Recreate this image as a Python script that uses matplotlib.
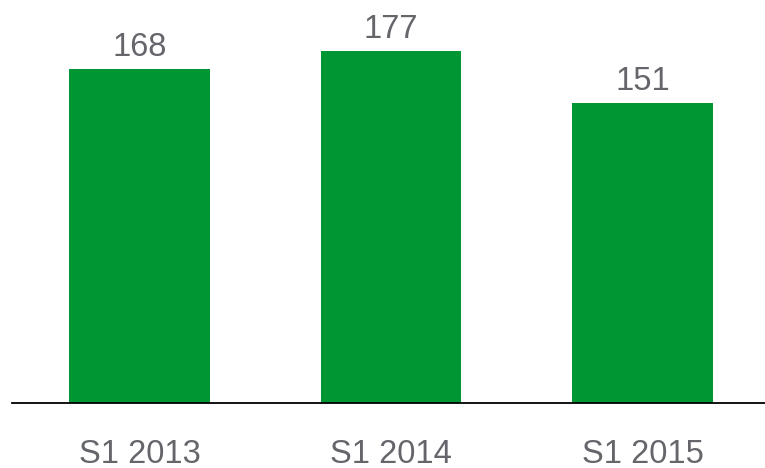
import matplotlib
matplotlib.use("Agg")
import matplotlib.pyplot as plt

plt.rcParams["font.family"] = ["Liberation Sans", "DejaVu Sans"]

categories = ["S1 2013", "S1 2014", "S1 2015"]
values = [168, 177, 151]

BAR_COLOR = "#009633"
TEXT_COLOR = "#65656b"

fig = plt.figure(figsize=(7.65, 4.68), dpi=100)
ax = fig.add_axes([12 / 765, 65 / 468, 753 / 765, 397.6 / 468])

x = range(len(categories))
bars = ax.bar(x, values, width=0.56, color=BAR_COLOR, zorder=2)

for xi, v in zip(x, values):
    ax.annotate(str(v), xy=(xi, v), xytext=(0, 9.4), textcoords="offset points",
                ha="center", va="baseline", fontsize=23.5, color=TEXT_COLOR)

ax.set_xlim(-0.507, 2.487)
ax.set_ylim(0, 200)
ax.set_xticks(list(x))
ax.set_xticklabels(categories, fontsize=23.5, color=TEXT_COLOR)
ax.tick_params(axis="x", length=0, pad=26)
ax.set_yticks([])

for side in ("top", "right", "left"):
    ax.spines[side].set_visible(False)
ax.spines["bottom"].set_color("black")
ax.spines["bottom"].set_linewidth(1.3)
ax.spines["bottom"].set_zorder(3)

fig.savefig("out.png", dpi=100)
